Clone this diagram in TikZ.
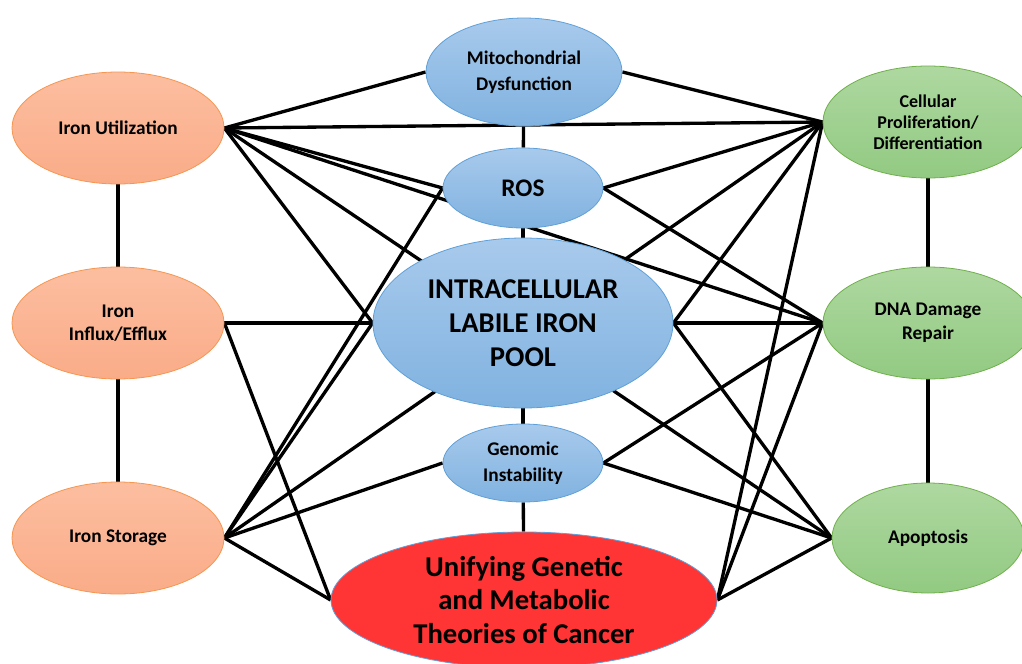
\documentclass[tikz,border=0pt]{standalone}
\usepackage{fontspec}
\setmainfont{Carlito}
\usepackage{tikz}
\usetikzlibrary{shapes,backgrounds}
\definecolor{orangetop}{RGB}{252,190,160}
\definecolor{orangebot}{RGB}{250,172,136}
\definecolor{orangeline}{RGB}{246,150,80}
\definecolor{bluetop}{RGB}{168,202,236}
\definecolor{bluebot}{RGB}{128,178,224}
\definecolor{blueline}{RGB}{96,160,216}
\definecolor{greentop}{RGB}{174,216,160}
\definecolor{greenbot}{RGB}{146,202,130}
\definecolor{greenline}{RGB}{112,176,76}
\definecolor{cancerred}{RGB}{255,52,52}
\tikzstyle{oval}=[ellipse,inner sep=0pt,align=center,line width=.6pt]
\tikzstyle{iron}=[oval,draw=orangeline,top color=orangetop,bottom color=orangebot,minimum width=159pt,minimum height=84pt,font=\fontsize{14.5}{17.5}\selectfont\bfseries]
\tikzstyle{cellular}=[oval,draw=greenline,top color=greentop,bottom color=greenbot,minimum width=157.5pt,minimum height=84pt,font=\fontsize{14.5}{18}\selectfont\bfseries]
\tikzstyle{mech}=[oval,draw=blueline,top color=bluetop,bottom color=bluebot,minimum width=120pt,minimum height=60pt,font=\fontsize{14.5}{19.5}\selectfont\bfseries]
\tikzstyle{link}=[black,line width=2.5pt]

\begin{document}
\begin{tikzpicture}[x=.75pt, y=-.75pt]

	\useasboundingbox (0,0) rectangle (1022,664);

	%iron side
	\node[iron] (iu) at (118,128) {Iron Utilization};
	\node[iron] (if) at (118,323) {Iron\\Influx/Efflux};
	\node[iron] (is) at (118,538) {Iron Storage};

	%middle column
	\node[mech,minimum width=147pt,minimum height=81pt] (mito) at (524,72) {Mitochondrial\\Dysfunction};
	\node[mech,font=\fontsize{19}{22}\selectfont\bfseries] (ros) at (523,188) {ROS};
	\node[mech,minimum width=225pt,minimum height=127.5pt,
		font=\fontsize{21.5}{25.5}\selectfont\bfseries] (pool) at (523,323) {INTRACELLULAR\\LABILE IRON\\POOL};
	\node[mech,minimum height=58.5pt] (gen) at (523,463) {Genomic\\Instability};
	\node[oval,draw=blueline,fill=cancerred,minimum width=289.5pt,minimum height=102pt,
		font=\fontsize{21.5}{25}\selectfont\bfseries] (unif) at (524,600) {Unifying Genetic\\and Metabolic\\Theories of Cancer};

	%cell side
	\node[cellular,font=\fontsize{13.5}{15.75}\selectfont\bfseries] (cell) at (928,122) {Cellular\\Proliferation/\\Differentiation};
	\node[cellular] (dna) at (928,323) {DNA Damage\\Repair};
	\node[cellular,minimum width=144pt,minimum height=82.5pt] (apop) at (928,538) {Apoptosis};

	\begin{pgfonlayer}{background}
	%columns
	\draw[link] (iu) -- (if);
	\draw[link] (if) -- (is);
	\draw[link] (mito) -- (ros);
	\draw[link] (ros) -- (pool);
	\draw[link] (pool) -- (gen);
	\draw[link] (gen) -- (unif);
	\draw[link] (cell) -- (dna);
	\draw[link] (dna) -- (apop);

	%left links
	\foreach \t in {mito,cell,ros,dna,apop,pool}
		\draw[link] (iu.east) -- (\t.west);
	\foreach \t in {pool,unif}
		\draw[link] (if.east) -- (\t.west);
	\foreach \t in {pool,ros,cell,gen,unif}
		\draw[link] (is.east) -- (\t.west);

	%right links
	\draw[link] (mito.east) -- (cell.west);
	\foreach \t in {cell,dna}
		\draw[link] (ros.east) -- (\t.west);
	\foreach \t in {cell,dna,apop}
		\draw[link] (pool.east) -- (\t.west);
	\foreach \t in {dna,apop}
		\draw[link] (gen.east) -- (\t.west);
	\foreach \t in {cell,dna,apop}
		\draw[link] (unif.east) -- (\t.west);
	\end{pgfonlayer}
\end{tikzpicture}
\end{document}
